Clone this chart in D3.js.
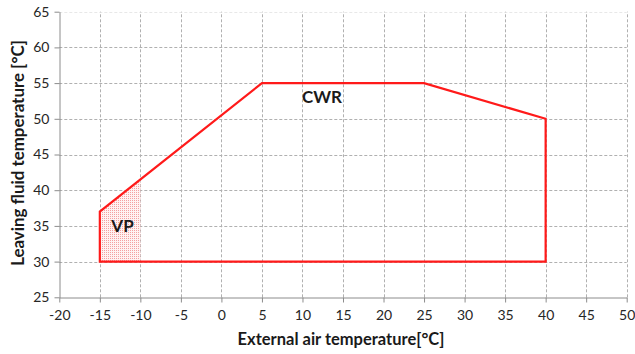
<!DOCTYPE html>
<html><head><meta charset="utf-8">
<script src="https://cdn.jsdelivr.net/npm/d3@7"></script>
<style>body{margin:0;background:#fff}svg{display:block}text{font-family:Lato,"Open Sans",sans-serif}</style>
</head><body><svg id="c" width="635" height="354"></svg>
<script>
const xTicks = [-20,-15,-10,-5,0,5,10,15,20,25,30,35,40,45,50];
const yTicks = [25,30,35,40,45,50,55,60,65];
const cwrX = [-15,-15,5,25,40,40];
const cwrY = [30,37,55,55,50,30];
const vpX = [-15,-15,-10,-10];
const vpY = [30,37,41.5,30];
const labels = ["CWR","VP"];
const labelX = [12.4,-12.2];
const labelY = [52.2,34.1];

const svg = d3.select("#c");
const x = d3.scaleLinear().domain([-20,50]).range([59.3,626.7]);
const y = d3.scaleLinear().domain([25,65]).range([297.3,11.7]);

const defs = svg.append("defs");
const pat = defs.append("pattern").attr("id","dots").attr("patternUnits","userSpaceOnUse")
  .attr("width",2).attr("height",2);
pat.append("rect").attr("width",2).attr("height",2).attr("fill","#fff2f2");
pat.append("rect").attr("width",1).attr("height",1).attr("fill","#f4a0a0");

// grid
svg.append("g").selectAll("line").data(yTicks.filter(d=>d>25)).join("line")
  .attr("x1",x(-20)).attr("x2",x(50)).attr("y1",d=>Math.round(y(d))+0.5).attr("y2",d=>Math.round(y(d))+0.5)
  .attr("stroke",d=>d===65?"#e8e8e8":"#b0b0b0").attr("stroke-dasharray","3,2").attr("stroke-width",1);
svg.append("g").selectAll("line").data(xTicks.filter(d=>d>-20)).join("line")
  .attr("y1",y(25)).attr("y2",y(65)).attr("x1",d=>Math.round(x(d))+0.5).attr("x2",d=>Math.round(x(d))+0.5)
  .attr("stroke","#b0b0b0").attr("stroke-dasharray","3,2").attr("stroke-width",1);

// VP fill
svg.append("path").datum(vpX.map((v,i)=>[v,vpY[i]]))
  .attr("d",d3.line().x(d=>x(d[0])).y(d=>y(d[1])).curve(d3.curveLinearClosed))
  .attr("fill","url(#dots)").attr("stroke","none");

// axes
const xa = svg.append("g").attr("transform",`translate(0,${Math.round(y(25))+0.5})`)
  .call(d3.axisBottom(x).tickValues(xTicks).tickSize(5).tickSizeOuter(0).tickPadding(8).tickFormat(d=>String(d)));
const ya = svg.append("g").attr("transform",`translate(${Math.round(x(-20))+0.5},0)`)
  .call(d3.axisLeft(y).tickValues(yTicks).tickSize(5).tickSizeOuter(0).tickPadding(5).tickFormat(d=>String(d)));
[xa,ya].forEach(a=>{
  a.select(".domain").attr("stroke","#8c8c8c");
  a.selectAll(".tick line").attr("stroke","#8c8c8c");
  a.selectAll(".tick text").attr("fill","#262626").style("font-size","14px").style("font-family","Lato,'Open Sans',sans-serif");
});

// CWR outline
svg.append("path").datum(cwrX.map((v,i)=>[v,cwrY[i]]))
  .attr("d",d3.line().x(d=>x(d[0])).y(d=>y(d[1])).curve(d3.curveLinearClosed))
  .attr("fill","none").attr("stroke","#ff1a1a").attr("stroke-width",2.2);

// labels
svg.append("g").selectAll("text").data(labels).join("text")
  .attr("x",(d,i)=>x(labelX[i])).attr("y",(d,i)=>y(labelY[i])).attr("text-anchor","middle")
  .attr("font-weight","bold").attr("font-size","17px").attr("fill","#1a1a1a").text(d=>d);

// axis titles
svg.append("text").attr("x",341).attr("y",345).attr("text-anchor","middle")
  .attr("font-weight","bold").attr("font-size","16.5px").attr("fill","#1a1a1a").text("External air temperature[°C]");
svg.append("text").attr("transform","translate(24,153) rotate(-90)").attr("text-anchor","middle")
  .attr("font-weight","bold").attr("font-size","16.9px").attr("fill","#1a1a1a").text("Leaving fluid temperature [°C]");
</script></body></html>
